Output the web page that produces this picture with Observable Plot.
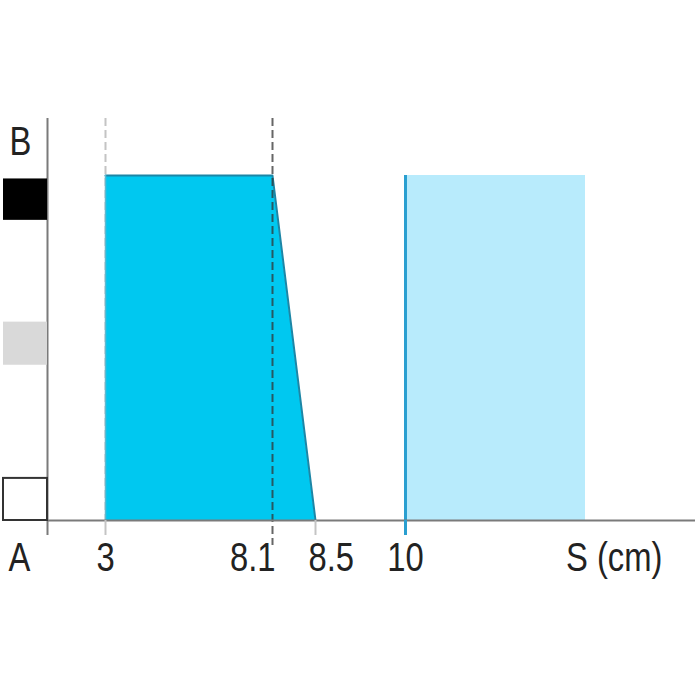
<!DOCTYPE html>
<html>
<head>
<meta charset="utf-8">
<script src="https://cdn.jsdelivr.net/npm/d3@7"></script>
<script src="https://cdn.jsdelivr.net/npm/@observablehq/plot@0.6"></script>
<style>
  body { margin: 0; background: #fff; }
</style>
</head>
<body>
<div id="grafico"></div>
<script>
// perfil (zona cian): S en cm, B normalizado
const perfilS = [3, 8.1, 8.5]
const perfilB = [1, 1, 0]

// banda celeste a partir de S = 10
const bandaInicio = [10]
const bandaFin = [13]
const bandaAlto = [1]

// marcas del eje x
const ticksS = [3, 8.1, 8.5, 10]
const ticksAncla = ['middle', 'end', 'start', 'middle']

// cuadrados de la columna B (niveles)
const niveles = ['negro', 'gris', 'blanco']
const nivelArriba = [0.99, 0.575, 0.122]
const nivelAbajo = [0.87, 0.45, 0]
const nivelColor = ['#000000', '#d9d9d9', '#ffffff']

const perfil = perfilS.map((s, i) => ({s, b: perfilB[i]}))
const banda = bandaInicio.map((s, i) => ({s1: s, s2: bandaFin[i], b: bandaAlto[i]}))
const cuadros = niveles.map((n, i) => ({n, top: nivelArriba[i], bottom: nivelAbajo[i], color: nivelColor[i]}))
const etiquetas = ticksS.map((s, i) => ({s, ancla: ticksAncla[i]}))

const H = 700, MT = 118, MB = 180
const altoMarco = H - MT - MB
const fuente = {fontSize: 40, fill: '#222', lineAnchor: 'middle'}

let chart = Plot.plot({
  width: 700,
  height: H,
  marginLeft: 47,
  marginRight: 5,
  marginTop: MT,
  marginBottom: MB,
  style: {fontFamily: '"Liberation Sans", Arial, sans-serif', background: 'white'},
  x: {
    type: 'linear',
    domain: [-1, 0, 3, 8.1, 8.5, 10, 13, 15],
    range: [3, 47, 105, 272, 315, 405, 585, 695],
    axis: null
  },
  y: {domain: [0, 1], range: [520, 175], axis: null},
  marks: [
    // guia punteada en 3
    Plot.ruleX([3], {stroke: '#c4c4c4', strokeWidth: 2, strokeDasharray: '8,4'}),

    // banda celeste
    Plot.rect(banda, {x1: 's1', x2: 's2', y1: 0, y2: 'b', fill: '#b8ebfc'}),
    Plot.ruleX(banda, {x: 's1', y1: 0, y2: 'b', stroke: '#2a9fd0', strokeWidth: 3}),

    // perfil cian
    Plot.areaY(perfil, {x: 's', y: 'b', fill: '#00c8f0'}),
    Plot.line(perfil, {x: 's', y: 'b', stroke: '#1c86a6', strokeWidth: 2}),
    Plot.ruleX([3], {y1: 0, y2: 1, stroke: '#5fb8cf', strokeWidth: 1.5}),

    // guia punteada en 8.1
    Plot.ruleX([8.1], {stroke: '#333', strokeOpacity: 0.75, strokeWidth: 2, strokeDasharray: '8,4', insetBottom: -25}),

    // ejes
    Plot.ruleX([0], {stroke: '#7a7a7a', strokeWidth: 2, insetBottom: -15}),
    Plot.ruleY([0], {stroke: '#7a7a7a', strokeWidth: 2}),

    // marcas bajo el eje
    Plot.ruleX([3, 8.5], {stroke: '#c4c4c4', strokeWidth: 2, insetTop: altoMarco, insetBottom: -15}),
    Plot.ruleX(bandaInicio, {stroke: '#2a9fd0', strokeWidth: 3, insetTop: altoMarco, insetBottom: -15}),

    // cuadrados de la columna B
    Plot.rect(cuadros, {x1: -1, x2: 0, y1: 'bottom', y2: 'top', fill: 'color', stroke: d => d.n === 'blanco' ? '#333' : 'none', strokeWidth: 2}),

    // textos
    Plot.text(etiquetas.filter(d => d.ancla === 'middle'), {x: 's', text: 's', frameAnchor: 'bottom', dy: 38, textAnchor: 'middle', ...fuente}),
    Plot.text(etiquetas.filter(d => d.ancla === 'end'), {x: 's', text: 's', frameAnchor: 'bottom', dx: 3, dy: 38, textAnchor: 'end', ...fuente}),
    Plot.text(etiquetas.filter(d => d.ancla === 'start'), {x: 's', text: 's', frameAnchor: 'bottom', dx: -7, dy: 38, textAnchor: 'start', ...fuente}),
    Plot.text(['A'], {frameAnchor: 'bottom-left', dx: -28, dy: 38, textAnchor: 'middle', ...fuente}),
    Plot.text(['S (cm)'], {frameAnchor: 'bottom-right', dx: -33, dy: 38, textAnchor: 'end', ...fuente}),
    Plot.text(['B'], {frameAnchor: 'top-left', dx: -27, dy: 24, textAnchor: 'middle', ...fuente})
  ]
})

// letra angosta: se comprime cada texto en horizontal sobre su propio ancla
d3.select(chart).selectAll('text').each(function () {
  const t = this.getAttribute('transform')
  if (t && t.includes('translate')) {
    this.setAttribute('transform', t + ' scale(0.82,1)')
  } else {
    const x = +(this.getAttribute('x') || 0), y = +(this.getAttribute('y') || 0)
    this.removeAttribute('x'); this.removeAttribute('y')
    this.setAttribute('transform', (t ? t + ' ' : '') + `translate(${x},${y}) scale(0.82,1)`)
  }
})

d3.select('#grafico').append(() => chart)
</script>
</body>
</html>
